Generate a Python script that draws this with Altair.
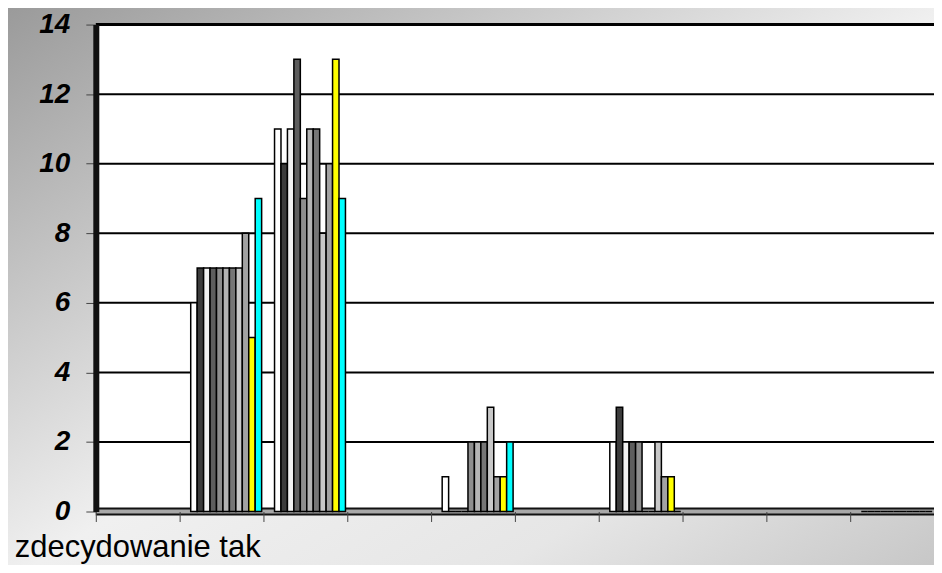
import altair as alt
import pandas as pd

# ---- data ----
categories = ["zdecydowanie tak", "k2", "k3", "k4", "k5", "k6", "k7", "k8", "k9", "k10"]
series = ["s1", "s2", "s3", "s4", "s5", "s6", "s7", "s8", "s9", "s10", "s11"]
series_colors = ["#ffffff", "#3c3c3c", "#f2f2f2", "#5e5e5e", "#8e8e8e", "#b4b4b4",
                 "#767676", "#c8c8c8", "#a2a2a2", "#ffff00", "#00ffff"]

vals_k2 = [6, 7, 7, 7, 7, 7, 7, 7, 8, 5, 9]
vals_k3 = [11, 10, 11, 13, 9, 11, 11, 8, 10, 13, 9]
vals_k5 = [1, 0, 0, 0, 2, 2, 2, 3, 1, 1, 2]
vals_k7 = [2, 3, 2, 2, 2, 0, 0, 2, 1, 1, 0]
vals_k10 = [0, 0, 0, 0, 0, 0, 0, 0, 0, 0, 0]

y_ticks = [0, 2, 4, 6, 8, 10, 12, 14]
grid_values = [2, 4, 6, 8, 10, 12]

groups = {"k2": vals_k2, "k3": vals_k3, "k5": vals_k5, "k7": vals_k7, "k10": vals_k10}
rows = []
for cat, vals in groups.items():
    for s, v in zip(series, vals):
        rows.append({"kat": cat, "seria": s, "wartosc": v})
df = pd.DataFrame(rows)

W, H = 840, 488
FONT = "Liberation Sans"

y_scale = alt.Scale(domain=[0, 14], nice=False, zero=True)

one = pd.DataFrame({"a": [0]})

bg = alt.Chart(one).mark_rect(
    color=alt.Gradient(
        gradient="linear",
        stops=[alt.GradientStop(color="#9a9a9a", offset=0),
               alt.GradientStop(color="#f0f0f0", offset=0.5),
               alt.GradientStop(color="#e6e6e6", offset=0.75),
               alt.GradientStop(color="#c4c4c4", offset=1)],
        x1=0, y1=0, x2=1, y2=1,
    )
).encode(x=alt.value(-90), x2=alt.value(W + 20), y=alt.value(-18), y2=alt.value(H + 70))

plot_bg = alt.Chart(one).mark_rect(color="white").encode(
    x=alt.value(0), x2=alt.value(W + 10), y=alt.value(0), y2=alt.value(H)
)

grid = alt.Chart(pd.DataFrame({"v": grid_values})).mark_rule(
    color="black", strokeWidth=2
).encode(y=alt.Y("v:Q", scale=y_scale))

top = alt.Chart(one).mark_rule(color="black", strokeWidth=3).encode(
    y=alt.datum(14, scale=y_scale)
)

floor_dark = alt.Chart(one).mark_rule(color="#111111", strokeWidth=8).encode(
    y=alt.datum(0, scale=y_scale)
)
floor_light = alt.Chart(one).mark_rule(color="#a8a8a8", strokeWidth=4).encode(
    y=alt.datum(0, scale=y_scale)
)

bars = alt.Chart(df).mark_bar(stroke="black", strokeWidth=1.5).encode(
    x=alt.X(
        "kat:N",
        scale=alt.Scale(domain=categories, paddingInner=0, paddingOuter=0),
        axis=alt.Axis(
            title=None, bandPosition=0, domain=False, tickSize=10, tickColor="#444444",
            tickWidth=1, labelAngle=0, labelFont=FONT, labelFontSize=31,
            labelColor="black", labelPadding=11, labelLimit=0,
            labelExpr="datum.value == 'zdecydowanie tak' ? datum.label : ''",
            zindex=1,
        ),
    ),
    xOffset=alt.XOffset(
        "seria:N",
        scale=alt.Scale(domain=series, paddingInner=0, paddingOuter=1, align=0.86),
    ),
    y=alt.Y(
        "wartosc:Q",
        scale=y_scale,
        axis=alt.Axis(
            title=None, values=y_ticks, grid=False, tickSize=10, tickColor="#444444",
            labelFont=FONT, labelFontSize=28, labelFontWeight="bold",
            labelFontStyle="italic", labelColor="black", labelPadding=16,
            domainColor="#111111", domainWidth=6, zindex=1,
        ),
    ),
    color=alt.Color("seria:N", scale=alt.Scale(domain=series, range=series_colors), legend=None),
)

chart = alt.layer(bg, plot_bg, grid, top, floor_dark, floor_light, bars).properties(
    width=W, height=H,
    autosize=alt.AutoSizeParams(type="none"),
    padding={"left": 88, "top": 16, "right": 0, "bottom": 53},
).configure_view(stroke=None)

chart.save("out.html", embed_options={"renderer": "svg", "actions": False})
